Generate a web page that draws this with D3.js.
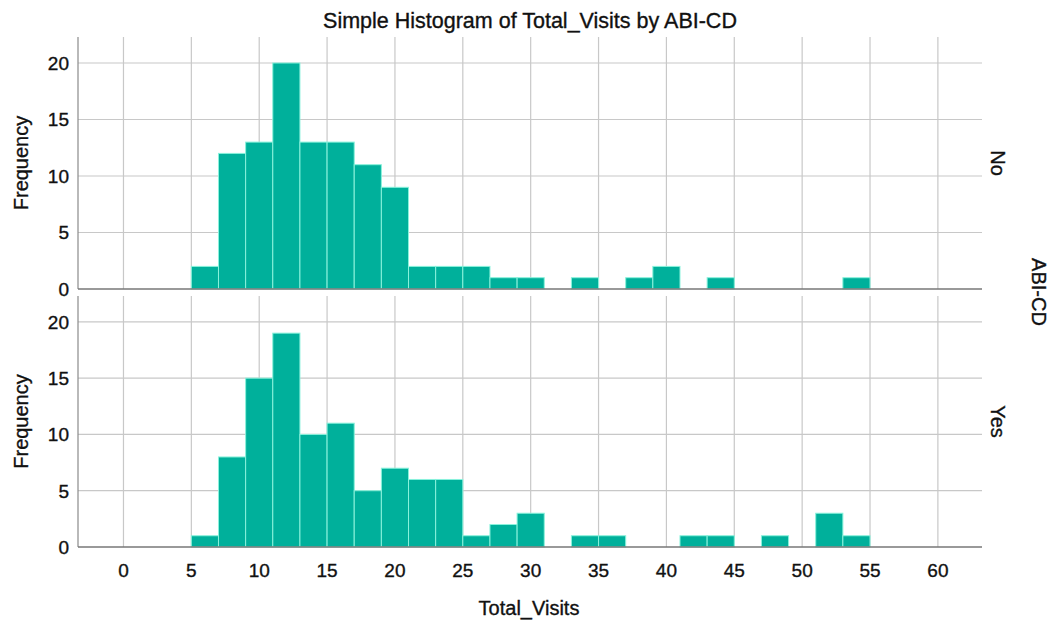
<!DOCTYPE html>
<html>
<head>
<meta charset="utf-8">
<script src="https://cdn.jsdelivr.net/npm/d3@7"></script>
<style>
body { margin: 0; background: #fff; }
text { font-family: "Liberation Sans", Arial, sans-serif; fill: #111; stroke: #111; stroke-width: 0.35px; }
</style>
</head>
<body>
<div id="chart"></div>
<script>
// bins are 2 visits wide, starting at 5
var binStarts = [5, 7, 9, 11, 13, 15, 17, 19, 21, 23, 25, 27, 29, 31, 33, 35, 37, 39, 41, 43, 45, 47, 49, 51, 53];
var countsNo  = [2, 12, 13, 20, 13, 13, 11, 9, 2, 2, 2, 1, 1, 0, 1, 0, 1, 2, 0, 1, 0, 0, 0, 0, 1];
var countsYes = [1, 8, 15, 19, 10, 11, 5, 7, 6, 6, 1, 2, 3, 0, 1, 1, 0, 0, 1, 1, 0, 1, 0, 3, 1];
var panels = ["No", "Yes"];
var xTicks = [0, 5, 10, 15, 20, 25, 30, 35, 40, 45, 50, 55, 60];
var yTicks = [0, 5, 10, 15, 20];
var binWidth = 2;

var w = 1052, h = 624;
var left = 78, right = 982;

var svg = d3.select("#chart").append("svg")
    .attr("width", w)
    .attr("height", h);

// x scale
var x = d3.scaleLinear()
    .domain([-3.35, 63.25])
    .range([left, right]);

var panelBoxes = [
    {name: panels[0], top: 37, bottom: 289, counts: countsNo},
    {name: panels[1], top: 296, bottom: 547, counts: countsYes}
];

panelBoxes.forEach(function(p){
    var y = d3.scaleLinear()
        .domain([0, 22.3])
        .range([p.bottom, p.top]);

    var g = svg.append("g");

    // vertical grid
    g.selectAll(".vgrid")
        .data(xTicks)
        .enter()
        .append("line")
        .attr("x1", function(d){ return x(d); })
        .attr("x2", function(d){ return x(d); })
        .attr("y1", p.top)
        .attr("y2", p.bottom)
        .attr("stroke", "#c8c8c8")
        .attr("stroke-width", 1.2);

    // horizontal grid
    g.selectAll(".hgrid")
        .data(yTicks.slice(1))
        .enter()
        .append("line")
        .attr("x1", left)
        .attr("x2", right)
        .attr("y1", function(d){ return y(d); })
        .attr("y2", function(d){ return y(d); })
        .attr("stroke", "#c8c8c8")
        .attr("stroke-width", 1.2);

    // bars
    var data = binStarts.map(function(b, i){ return {x0: b, n: p.counts[i]}; })
        .filter(function(d){ return d.n > 0; });

    g.selectAll(".bar")
        .data(data)
        .enter()
        .append("rect")
        .attr("x", function(d){ return x(d.x0); })
        .attr("width", function(d){ return x(d.x0 + binWidth) - x(d.x0); })
        .attr("y", function(d){ return y(d.n); })
        .attr("height", function(d){ return y(0) - y(d.n); })
        .attr("fill", "#00b09b")
        .attr("stroke", "#8af2dc")
        .attr("stroke-width", 1);

    // left axis line and baseline
    g.append("line")
        .attr("x1", left).attr("x2", left)
        .attr("y1", p.top).attr("y2", p.bottom)
        .attr("stroke", "#8a8a8a").attr("stroke-width", 1.2);
    g.append("line")
        .attr("x1", left).attr("x2", right)
        .attr("y1", p.bottom).attr("y2", p.bottom)
        .attr("stroke", "#777").attr("stroke-width", 1.5);

    // y labels
    g.selectAll(".ylab")
        .data(yTicks)
        .enter()
        .append("text")
        .attr("x", 69)
        .attr("y", function(d){ return y(d) + 7; })
        .attr("text-anchor", "end")
        .style("font-size", "19px")
        .text(function(d){ return d; });

    var mid = (p.top + p.bottom) / 2;
    g.append("text")
        .attr("transform", "translate(28," + mid + ") rotate(-90)")
        .attr("text-anchor", "middle")
        .style("font-size", "20px")
        .text("Frequency");

    g.append("text")
        .attr("transform", "translate(991," + (mid) + ") rotate(90)")
        .attr("text-anchor", "middle")
        .style("font-size", "20px")
        .text(p.name);
});

// x tick labels
svg.selectAll(".xlab")
    .data(xTicks)
    .enter()
    .append("text")
    .attr("x", function(d){ return x(d); })
    .attr("y", 577)
    .attr("text-anchor", "middle")
    .style("font-size", "19px")
    .text(function(d){ return d; });

svg.append("text")
    .attr("x", 529)
    .attr("y", 615)
    .attr("text-anchor", "middle")
    .style("font-size", "20px")
    .text("Total_Visits");

svg.append("text")
    .attr("x", 530)
    .attr("y", 28)
    .attr("text-anchor", "middle")
    .style("font-size", "21.5px")
    .text("Simple Histogram of Total_Visits by ABI-CD");

svg.append("text")
    .attr("transform", "translate(1032,292) rotate(90)")
    .attr("text-anchor", "middle")
    .style("font-size", "20px")
    .text("ABI-CD");
</script>
</body>
</html>
